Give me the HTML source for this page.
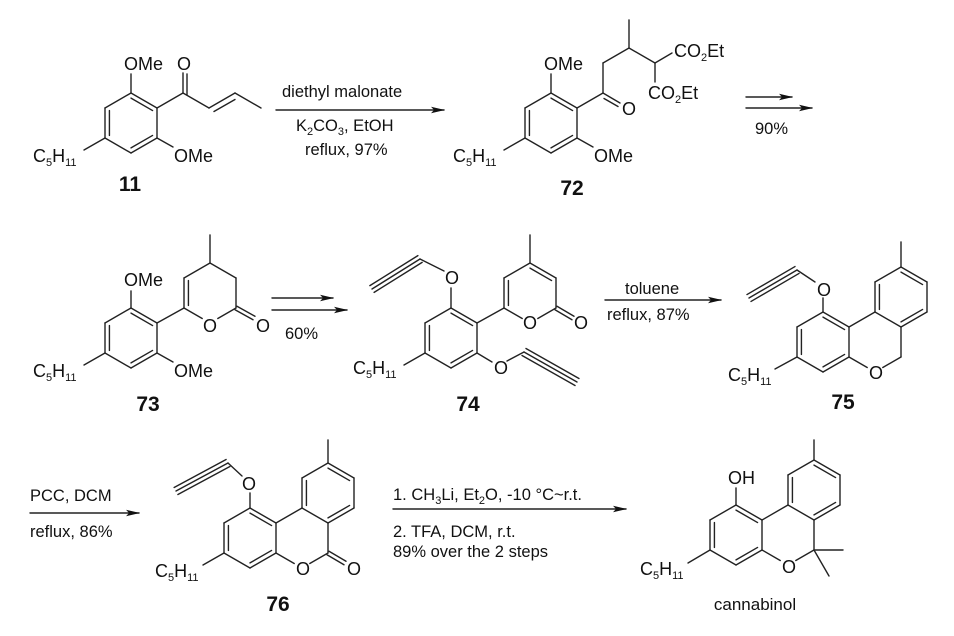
<!DOCTYPE html>
<html><head><meta charset="utf-8"><style>
html,body{margin:0;padding:0;background:#fff;}
svg{display:block;}
text{font-family:"Liberation Sans",Arial,sans-serif;fill:#111;}
.a{font-size:18px;}
.c{font-size:16.5px;}
.n{font-size:21px;font-weight:bold;}
line{stroke:#222;stroke-width:1.4;stroke-linecap:round;}
</style></head><body>
<svg id="s" width="954" height="636" viewBox="0 0 954 636" xmlns="http://www.w3.org/2000/svg">
<defs><marker id="ah" markerWidth="14" markerHeight="8" refX="13" refY="4" orient="auto" markerUnits="userSpaceOnUse"><path d="M0,0.8 L14,4 L0,7.2 L3,4 Z" fill="#111"/></marker></defs>
<g id="g"></g>
<line x1="276" y1="110" x2="444" y2="110" marker-end="url(#ah)"/>
<line x1="746" y1="97" x2="792" y2="97" marker-end="url(#ah)"/>
<line x1="746" y1="108" x2="812" y2="108" marker-end="url(#ah)"/>
<line x1="272" y1="298" x2="333" y2="298" marker-end="url(#ah)"/>
<line x1="272" y1="310" x2="347" y2="310" marker-end="url(#ah)"/>
<line x1="605" y1="300" x2="721" y2="300" marker-end="url(#ah)"/>
<line x1="30" y1="513" x2="139" y2="513" marker-end="url(#ah)"/>
<line x1="393" y1="509" x2="626" y2="509" marker-end="url(#ah)"/>

<text class="c" x="282" y="97">diethyl malonate</text>
<text class="c" x="296" y="131">K<tspan font-size="11" dy="4">2</tspan><tspan dy="-4">CO</tspan><tspan font-size="11" dy="4">3</tspan><tspan dy="-4">, EtOH</tspan></text>
<text class="c" x="305" y="155">reflux, 97%</text>
<text class="c" x="755" y="134">90%</text>
<text class="c" x="285" y="339">60%</text>
<text class="c" x="625" y="294">toluene</text>
<text class="c" x="607" y="320">reflux, 87%</text>
<text class="c" x="30" y="501">PCC, DCM</text>
<text class="c" x="30" y="537">reflux, 86%</text>
<text class="c" x="393" y="500">1. CH<tspan font-size="11" dy="4">3</tspan><tspan dy="-4">Li, Et</tspan><tspan font-size="11" dy="4">2</tspan><tspan dy="-4">O, -10 °C~r.t.</tspan></text>
<text class="c" x="393" y="537">2. TFA, DCM, r.t.</text>
<text class="c" x="393" y="557">89% over the 2 steps</text>

<text class="a" x="124" y="70">OMe</text>
<text class="a" x="177" y="70">O</text>
<text class="a" x="174" y="162">OMe</text>
<text class="a" x="33" y="162">C<tspan font-size="11" dy="4">5</tspan><tspan dy="-4">H</tspan><tspan font-size="11" dy="4">11</tspan></text>
<text class="n" x="130" y="191" text-anchor="middle">11</text>

<text class="a" x="544" y="70">OMe</text>
<text class="a" x="622" y="115">O</text>
<text class="a" x="594" y="162">OMe</text>
<text class="a" x="453" y="162">C<tspan font-size="11" dy="4">5</tspan><tspan dy="-4">H</tspan><tspan font-size="11" dy="4">11</tspan></text>
<text class="a" x="674" y="57">CO<tspan font-size="11" dy="4">2</tspan><tspan dy="-4">Et</tspan></text>
<text class="a" x="648" y="99">CO<tspan font-size="11" dy="4">2</tspan><tspan dy="-4">Et</tspan></text>
<text class="n" x="572" y="195" text-anchor="middle">72</text>

<text class="a" x="124" y="286">OMe</text>
<text class="a" x="174" y="377">OMe</text>
<text class="a" x="33" y="377">C<tspan font-size="11" dy="4">5</tspan><tspan dy="-4">H</tspan><tspan font-size="11" dy="4">11</tspan></text>
<text class="a" x="203" y="332">O</text>
<text class="a" x="256" y="332">O</text>
<text class="n" x="148" y="411" text-anchor="middle">73</text>

<text class="a" x="445" y="284">O</text>
<text class="a" x="494" y="374">O</text>
<text class="a" x="353" y="374">C<tspan font-size="11" dy="4">5</tspan><tspan dy="-4">H</tspan><tspan font-size="11" dy="4">11</tspan></text>
<text class="a" x="523" y="329">O</text>
<text class="a" x="574" y="329">O</text>
<text class="n" x="468" y="411" text-anchor="middle">74</text>

<text class="a" x="817" y="296">O</text>
<text class="a" x="869" y="379">O</text>
<text class="a" x="728" y="381">C<tspan font-size="11" dy="4">5</tspan><tspan dy="-4">H</tspan><tspan font-size="11" dy="4">11</tspan></text>
<text class="n" x="843" y="409" text-anchor="middle">75</text>

<text class="a" x="242" y="490">O</text>
<text class="a" x="296" y="575">O</text>
<text class="a" x="347" y="575">O</text>
<text class="a" x="155" y="577">C<tspan font-size="11" dy="4">5</tspan><tspan dy="-4">H</tspan><tspan font-size="11" dy="4">11</tspan></text>
<text class="n" x="278" y="611" text-anchor="middle">76</text>

<text class="a" x="728" y="484">OH</text>
<text class="a" x="782" y="573">O</text>
<text class="a" x="640" y="575">C<tspan font-size="11" dy="4">5</tspan><tspan dy="-4">H</tspan><tspan font-size="11" dy="4">11</tspan></text>
<text class="c" x="755" y="610" text-anchor="middle" style="font-size:17px">cannabinol</text>
</svg>
<script>
var G=document.getElementById('g');
function ln(x1,y1,x2,y2){var l=document.createElementNS('http://www.w3.org/2000/svg','line');l.setAttribute('x1',x1);l.setAttribute('y1',y1);l.setAttribute('x2',x2);l.setAttribute('y2',y2);G.appendChild(l);}
function sh(P,Q,a,b){var dx=Q[0]-P[0],dy=Q[1]-P[1],L=Math.hypot(dx,dy),ux=dx/L,uy=dy/L;return [P[0]+ux*a,P[1]+uy*a,Q[0]-ux*b,Q[1]-uy*b];}
function ring(cx,cy,o,skip,dbl){var V=[[cx,cy-30],[cx+26,cy-15],[cx+26,cy+15],[cx,cy+30],[cx-26,cy+15],[cx-26,cy-15]];
 for(var e=0;e<6;e++){if(skip.indexOf(e)>=0)continue;var P=V[e],Q=V[(e+1)%6];var s=sh(P,Q,e===o?9:0,((e+1)%6)===o?9:0);ln(s[0],s[1],s[2],s[3]);}
 dbl.forEach(function(e){var P=V[e],Q=V[(e+1)%6],f=0.17;ln(P[0]+(cx-P[0])*f,P[1]+(cy-P[1])*f,Q[0]+(cx-Q[0])*f,Q[1]+(cy-Q[1])*f);});
 return V;}
function par(x1,y1,x2,y2,off){var dx=x2-x1,dy=y2-y1,L=Math.hypot(dx,dy),nx=-dy/L*off,ny=dx/L*off;ln(x1+nx,y1+ny,x2+nx,y2+ny);}
function cdbl(x1,y1,x2,y2){var dx=x2-x1,dy=y2-y1,L=Math.hypot(dx,dy);var nx=-dy/L*2,ny=dx/L*2;ln(x1+nx,y1+ny,x2+nx,y2+ny);ln(x1-nx,y1-ny,x2-nx,y2-ny);}
function tri(x1,y1,x2,y2){ln(x1,y1,x2,y2);par(x1,y1,x2,y2,4);par(x1,y1,x2,y2,-4);}
ring(131,123,-1,[],[4,0,2]);
ln(131,93,131,74);ln(157,138,173,147);ln(105,138,84,150);
ln(157,108,183,93);ln(183,93,183,73);ln(187,95,187,74);
ln(183,93,209,108);ln(209,108,235,93);par(212,108,233,96,4);ln(235,93,261,108);
ring(551,123,-1,[],[4,0,2]);
ln(551,93,551,74);ln(577,138,593,147);ln(525,138,504,150);
ln(577,108,603,93);ln(603,93,620,103);par(606,95,620,103,4);
ln(603,93,603,63);ln(603,63,629,48);ln(629,48,629,20);ln(629,48,655,63);ln(655,63,672,53);ln(655,63,655,82);
ring(131,338,-1,[],[4,0,2]);
ring(210,293,3,[],[4]);
ln(157,323,184,308);ln(131,308,131,291);ln(157,353,173,362);ln(105,353,84,365);
ln(210,263,210,235);cdbl(236,308,254,318);
ring(451,338,-1,[],[4,0,2]);
ring(530,293,3,[],[4,0]);
ln(477,323,504,308);ln(451,308,451,288);ln(425,353,404,365);
ln(444,271,420,259);tri(420,259,372,289);
ln(477,353,492,362);ln(507,361,524,352);tri(524,352,577,382);
ln(530,263,530,235);cdbl(556,308,573,318);
ring(823,342,-1,[],[4,0,2]);
ring(875,342,3,[0,4],[]);
ring(901,297,-1,[],[4,0,2]);
ln(901,267,901,242);ln(823,312,823,298);ln(815,282,797,270);tri(797,270,749,298);
ln(797,357,775,369);
ring(250,538,-1,[],[4,0,2]);
ring(302,538,3,[0,4],[]);
ring(328,493,-1,[],[4,0,2]);
ln(328,463,328,440);ln(250,508,250,493);ln(242,476,228,463);tri(228,463,176,491);
ln(224,553,203,565);cdbl(328,553,345,563);
ring(736,535,-1,[],[4,0,2]);
ring(788,535,3,[0,4],[]);
ring(814,490,-1,[],[4,0,2]);
ln(814,460,814,440);ln(736,505,736,488);ln(710,550,688,563);
ln(814,550,843,550);ln(814,550,829,576);
</script>
</body></html>
